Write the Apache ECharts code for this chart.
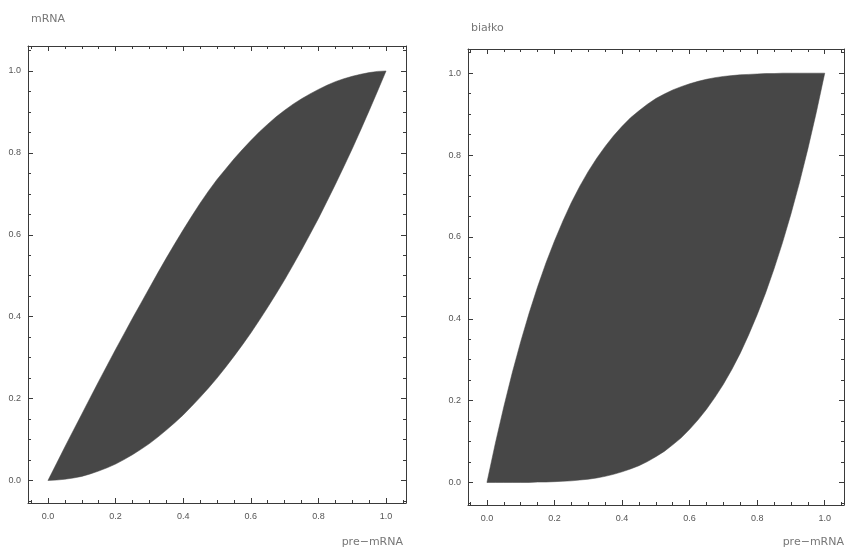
<!DOCTYPE html>
<html>
<head>
<meta charset="utf-8">
<script src="https://cdn.jsdelivr.net/npm/echarts@6/dist/echarts.min.js"></script>
<style>
  html, body { margin: 0; padding: 0; background: #fff; }
  #chart { width: 847px; height: 550px; }
</style>
</head>
<body>
<div id="chart"></div>
<script>
// pre-mRNA values where the band edges were read
var xs = [0, 0.025, 0.05, 0.075, 0.1, 0.125, 0.15, 0.175, 0.2, 0.225, 0.25, 0.275, 0.3, 0.325, 0.35, 0.375, 0.4,
  0.425, 0.45, 0.475, 0.5, 0.525, 0.55, 0.575, 0.6, 0.625, 0.65, 0.675, 0.7, 0.725, 0.75, 0.775, 0.8,
  0.825, 0.85, 0.875, 0.9, 0.925, 0.95, 0.975, 1];

// left panel: mRNA (upper and lower edge of the band)
var mrnaUpper = [0, 0.041, 0.082, 0.122, 0.162, 0.202, 0.242, 0.281, 0.32, 0.358, 0.396, 0.433, 0.47, 0.507, 0.543, 0.578, 0.612,
  0.645, 0.677, 0.707, 0.735, 0.76, 0.785, 0.808, 0.83, 0.851, 0.87, 0.888, 0.904, 0.919, 0.932, 0.944, 0.955,
  0.965, 0.974, 0.981, 0.987, 0.992, 0.996, 0.999, 1];
var mrnaLower = [0, 0.001, 0.003, 0.006, 0.01, 0.016, 0.023, 0.031, 0.04, 0.051, 0.063, 0.076, 0.09, 0.106, 0.123, 0.141, 0.16,
  0.181, 0.203, 0.226, 0.25, 0.276, 0.303, 0.331, 0.36, 0.391, 0.423, 0.456, 0.49, 0.526, 0.563, 0.601, 0.64,
  0.681, 0.723, 0.766, 0.81, 0.856, 0.903, 0.951, 1];

// right panel: białko
var bialkoUpper = [0, 0.096, 0.185, 0.268, 0.344, 0.414, 0.478, 0.537, 0.59, 0.639, 0.684, 0.724, 0.76, 0.792, 0.821, 0.847, 0.87,
  0.891, 0.908, 0.924, 0.938, 0.949, 0.959, 0.967, 0.974, 0.98, 0.985, 0.989, 0.992, 0.994, 0.996, 0.997, 0.998,
  0.999, 0.999, 1, 1, 1, 1, 1, 1];
var bialkoLower = [0, 0, 0, 0, 0, 0, 0.001, 0.001, 0.002, 0.003, 0.004, 0.006, 0.008, 0.011, 0.015, 0.02, 0.026,
  0.033, 0.041, 0.051, 0.063, 0.076, 0.092, 0.109, 0.13, 0.153, 0.179, 0.208, 0.24, 0.276, 0.316, 0.361, 0.41,
  0.463, 0.522, 0.586, 0.656, 0.732, 0.815, 0.904, 1];

var majorTicks = [0, 0.2, 0.4, 0.6, 0.8, 1.0];
var minorTicks = [-0.05, 0.05, 0.1, 0.15, 0.25, 0.3, 0.35, 0.45, 0.5, 0.55, 0.65, 0.7, 0.75, 0.85, 0.9, 0.95, 1.05];

var fill = '#474747';
var frameColor = '#3a3a3a';
var tickFont = { fontFamily: 'Liberation Sans', fontSize: 9, color: '#555' };
var nameFont = { fontFamily: 'DejaVu Sans', fontSize: 11, color: '#777' };

function extend() {
  var out = arguments[0];
  for (var i = 1; i < arguments.length; i++) {
    for (var k in arguments[i]) out[k] = arguments[i][k];
  }
  return out;
}

// Mathematica style frame: major + minor ticks on all four sides
function frameAxes(grid, min, max, pos, opp, margin, nameOpts) {
  var base = { type: 'value', gridIndex: grid, min: min, max: max, z: 10, splitLine: { show: false } };
  function major(p, labels) {
    return extend({}, base, {
      position: p,
      axisLine: { show: true, onZero: false, lineStyle: { color: frameColor, width: 1 } },
      axisTick: { show: true, inside: true, length: 5, customValues: majorTicks, lineStyle: { color: frameColor } },
      axisLabel: labels ? extend({ show: true, customValues: majorTicks, margin: margin,
        formatter: function (v) { return v.toFixed(1); } }, tickFont) : { show: false }
    });
  }
  function minor(p) {
    return extend({}, base, {
      position: p,
      axisLine: { show: false, onZero: false },
      axisTick: { show: true, inside: true, length: 3, customValues: minorTicks, lineStyle: { color: frameColor } },
      axisLabel: { show: false }
    });
  }
  return [extend(major(pos, true), nameOpts), minor(pos), major(opp, false), minor(opp)];
}

// the filled region: upper edge left to right, then lower edge back
function bandSeries(axisIdx, upper, lower) {
  var verts = xs.map(function (x, i) { return [x, upper[i]]; });
  for (var i = xs.length - 1; i >= 0; i--) verts.push([xs[i], lower[i]]);
  return {
    type: 'custom',
    coordinateSystem: 'cartesian2d',
    xAxisIndex: axisIdx,
    yAxisIndex: axisIdx,
    silent: true,
    data: verts,
    encode: { x: 0, y: 1 },
    renderItem: function (params, api) {
      if (params.dataIndex !== 0) return null;
      return {
        type: 'polygon',
        shape: { points: verts.map(function (p) { return api.coord(p); }) },
        style: { fill: fill, stroke: fill, lineWidth: 0.5 }
      };
    }
  };
}

function xName(padTop, padRight) {
  return { name: 'pre\u2212mRNA', nameLocation: 'end', nameGap: 0,
    nameTextStyle: extend({ align: 'right', verticalAlign: 'top', padding: [padTop, padRight, 0, 0] }, nameFont) };
}
function yName(text, gap) {
  return { name: text, nameLocation: 'end', nameGap: gap,
    nameTextStyle: extend({ align: 'left', verticalAlign: 'middle', padding: [0, 0, 0, 3] }, nameFont) };
}

var chart = echarts.init(document.getElementById('chart'));
chart.setOption({
  animation: false,
  backgroundColor: '#fff',
  grid: [
    { left: 28, top: 46, width: 378, height: 457 },
    { left: 468, top: 49, width: 378, height: 456 }
  ],
  xAxis: [].concat(
    frameAxes(0, -0.059, 1.059, 'bottom', 'top', 9, xName(34, 3)),
    frameAxes(1, -0.056, 1.057, 'bottom', 'top', 9, xName(32, 0))
  ),
  yAxis: [].concat(
    frameAxes(0, -0.055, 1.061, 'left', 'right', 7, yName('mRNA', 27)),
    frameAxes(1, -0.055, 1.059, 'left', 'right', 7, yName('białko', 21))
  ),
  series: [
    bandSeries(0, mrnaUpper, mrnaLower),
    bandSeries(4, bialkoUpper, bialkoLower)
  ]
});
</script>
</body>
</html>
